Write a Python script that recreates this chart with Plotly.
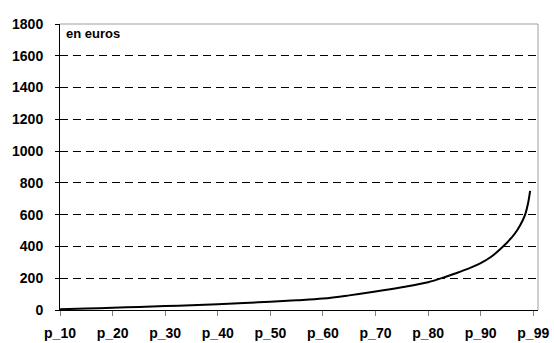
import plotly.graph_objects as go

# position along the percentile axis and amount in euros
positions = [10, 15, 20, 25, 30, 35, 40, 45, 50, 55, 60, 65, 70, 75, 80, 83, 85, 88,
             90, 92, 94, 96, 97, 98, 98.5, 99, 99.4]
euros = [5, 9, 14, 19, 25, 30, 36, 44, 52, 61, 72, 92, 116, 143, 175, 205, 228, 265,
         295, 335, 392, 460, 505, 565, 605, 670, 750]

tick_pos = [10, 20, 30, 40, 50, 60, 70, 80, 90, 100]
tick_labels = ["p_10", "p_20", "p_30", "p_40", "p_50", "p_60", "p_70", "p_80", "p_90", "p_99"]
y_ticks = list(range(0, 1801, 200))

fnt = dict(family="Liberation Sans, Arial, sans-serif", size=14, color="black", weight="bold")

fig = go.Figure()
fig.add_trace(go.Scatter(x=positions, y=euros, mode="lines", line_shape="spline",
                         line=dict(color="black", width=2)))

fig.update_layout(
    width=554, height=343,
    margin=dict(l=60, r=16, t=24, b=33),
    paper_bgcolor="white", plot_bgcolor="white",
    showlegend=False,
    font=fnt,
)
fig.update_xaxes(range=[10, 100.9], tickvals=tick_pos, ticktext=tick_labels,
                 showgrid=False, zeroline=False, showline=True, linecolor="black", linewidth=1,
                 ticks="outside", ticklen=5, tickcolor="#808080", tickfont=fnt,
                 ticklabelstandoff=5, automargin=False)
fig.update_yaxes(range=[0, 1800], tickvals=y_ticks, ticktext=[str(v) for v in y_ticks],
                 showgrid=True, gridcolor="black", griddash="8px,5px", gridwidth=1,
                 zeroline=False, showline=True, linecolor="black", linewidth=1,
                 ticks="outside", ticklen=4, tickcolor="black", tickfont=fnt,
                 ticklabelstandoff=9, automargin=False)

# light border on top and right of the plot area
fig.add_shape(type="line", xref="paper", yref="paper", x0=0, x1=1, y0=1, y1=1,
              line=dict(color="#a0a0a0", width=1))
fig.add_shape(type="line", xref="paper", yref="paper", x0=1, x1=1, y0=0, y1=1,
              line=dict(color="#a0a0a0", width=1))

fig.add_annotation(text="en euros", xref="paper", yref="paper", x=0.008, y=0.968,
                   xanchor="left", yanchor="middle", showarrow=False,
                   font=dict(family="Liberation Sans, Arial, sans-serif", size=13,
                             color="black", weight="bold"))

fig.write_html("out.html", config={"displayModeBar": False},
               post_script="document.body.style.margin='0px';")
